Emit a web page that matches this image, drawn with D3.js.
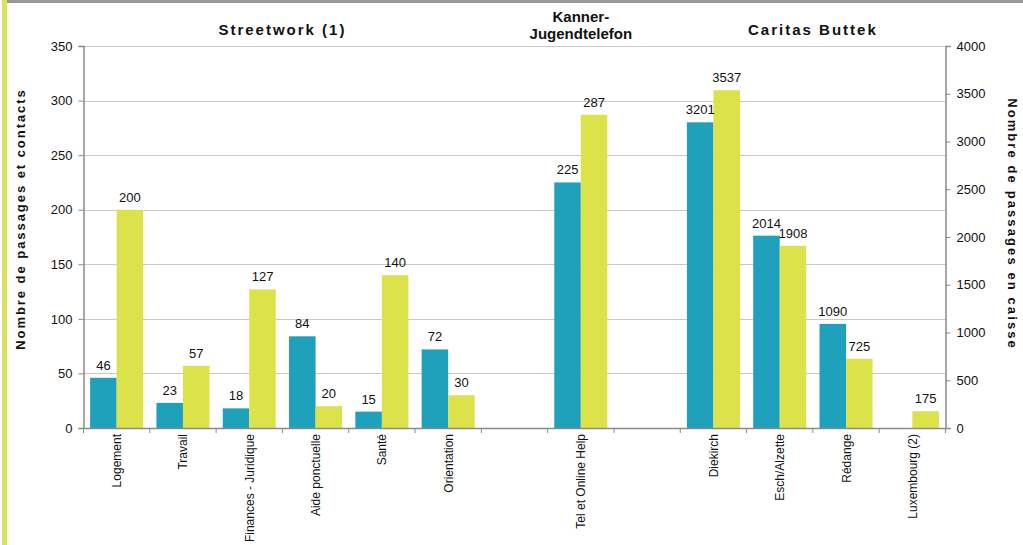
<!DOCTYPE html>
<html><head><meta charset="utf-8">
<script src="https://cdn.jsdelivr.net/npm/d3@7"></script>
<style>
body{margin:0;background:#fff;}
svg{display:block;font-family:"Liberation Sans",Arial,sans-serif;}
</style></head>
<body>
<svg id="c" width="1023" height="545"></svg>
<script>
const categories = ["Logement","Travail","Finances - Juridique","Aide ponctuelle","Santé","Orientation","gap1","Tel et Online Help","gap2","Diekirch","Esch/Alzette","Rédange","Luxembourg (2)"];
const categoryLabels = ["Logement","Travail","Finances - Juridique","Aide ponctuelle","Santé","Orientation","","Tel et Online Help","","Diekirch","Esch/Alzette","Rédange","Luxembourg (2)"];
// axis: "L" = left axis (passages et contacts), "R" = right axis (passages en caisse)
const categoryAxis = ["L","L","L","L","L","L","L","L","L","R","R","R","R"];
const series1 = [46,23,18,84,15,72,null,225,null,3201,2014,1090,null];
const series2 = [200,57,127,20,140,30,null,287,null,3537,1908,725,175];
const leftTicks = [0,50,100,150,200,250,300,350];
const rightTicks = [0,500,1000,1500,2000,2500,3000,3500,4000];
const groupTitles = [
  {lines:["Streetwork (1)"], from:0, to:5, spaced:true},
  {lines:["Kanner-","Jugendtelefon"], from:7, to:7, spaced:false},
  {lines:["Caritas Buttek"], from:9, to:12, spaced:true}
];

const svg = d3.select("#c");
const colors = ["#1FA0BB","#DCE24A"];
const L = 83.5, R = 945.5, T = 46, B = 428;

// decorations
svg.append("rect").attr("x",7).attr("y",0).attr("width",1016).attr("height",3).attr("fill","#9a9a9a");
svg.append("rect").attr("x",2).attr("y",0).attr("width",5).attr("height",545).attr("fill","#DCE25A");

const x = d3.scaleBand().domain(categories).range([L,R]).paddingInner(0).paddingOuter(0);
const xs = d3.scaleBand().domain([0,1]).range([0,x.bandwidth()]).paddingInner(0).paddingOuter(0.25);
const yL = d3.scaleLinear().domain([0,350]).range([B,T]);
const yR = d3.scaleLinear().domain([0,4000]).range([B,T]);

// gridlines
svg.append("g").selectAll("line").data(leftTicks.slice(1)).join("line")
  .attr("x1",L).attr("x2",R).attr("y1",d=>Math.round(yL(d))+0.5).attr("y2",d=>Math.round(yL(d))+0.5)
  .attr("stroke","#c8c8c8").attr("stroke-width",1);

// bars
const data = [];
categories.forEach((c,i)=>{
  [series1[i],series2[i]].forEach((v,s)=>{
    if(v!==null) data.push({c,i,s,v});
  });
});
const ys = d=> categoryAxis[d.i]==="L" ? yL : yR;
svg.append("g").selectAll("rect").data(data).join("rect")
  .attr("x",d=>x(d.c)+xs(d.s))
  .attr("width",xs.bandwidth())
  .attr("y",d=>ys(d)(d.v))
  .attr("height",d=>B-ys(d)(d.v))
  .attr("fill",d=>colors[d.s]);

// value labels
svg.append("g").selectAll("text").data(data).join("text")
  .attr("x",d=>x(d.c)+xs(d.s)+xs.bandwidth()/2)
  .attr("y",d=>ys(d)(d.v)-8)
  .attr("text-anchor","middle")
  .attr("font-size",13).attr("fill","#111")
  .text(d=>d.v);

// axes
const axisColor="#8a8a8a";
const gL = svg.append("g").attr("transform",`translate(${L},0)`)
  .call(d3.axisLeft(yL).tickValues(leftTicks).tickSize(5).tickPadding(6).tickFormat(d3.format("d")));
const gR = svg.append("g").attr("transform",`translate(${R},0)`)
  .call(d3.axisRight(yR).tickValues(rightTicks).tickSize(5).tickPadding(6).tickFormat(d3.format("d")));
[gL,gR].forEach(g=>{
  g.select(".domain").attr("stroke",axisColor).attr("stroke-width",1.5);
  g.selectAll(".tick line").attr("stroke",axisColor);
  g.selectAll(".tick text").attr("font-size",13).attr("fill","#111").attr("font-family","Liberation Sans, Arial, sans-serif");
});

// x axis
const gX = svg.append("g").attr("transform",`translate(0,${B})`);
gX.append("line").attr("x1",L).attr("x2",R).attr("y1",0.5).attr("y2",0.5).attr("stroke",axisColor).attr("stroke-width",1.5);
const bounds = categories.map(c=>x(c)).concat([R]);
gX.selectAll("line.t").data(bounds).join("line").attr("class","t")
  .attr("x1",d=>d).attr("x2",d=>d).attr("y1",0).attr("y2",5).attr("stroke",axisColor);
gX.selectAll("text").data(categories).join("text")
  .attr("transform",(d)=>`translate(${x(d)+x.bandwidth()/2+4.5},6) rotate(-90)`)
  .attr("text-anchor","end")
  .attr("font-size",12).attr("fill","#111")
  .text((d,i)=>categoryLabels[i]);

// group titles
groupTitles.forEach(g=>{
  const cx = (x(categories[g.from]) + x(categories[g.to]) + x.bandwidth())/2;
  const t = svg.append("text").attr("x",cx).attr("text-anchor","middle")
    .attr("font-size",15).attr("font-weight","bold").attr("fill","#111")
    .attr("letter-spacing",g.spaced?2:0);
  if(g.lines.length===1){
    t.attr("y",35).text(g.lines[0]);
  } else {
    g.lines.forEach((ln,k)=>t.append("tspan").attr("x",cx).attr("y",22+k*17).text(ln));
  }
});

// axis titles
svg.append("text").attr("transform",`translate(25,219) rotate(-90)`)
  .attr("text-anchor","middle").attr("font-size",13).attr("font-weight","bold")
  .attr("letter-spacing",1.95).attr("fill","#111").text("Nombre de passages et contacts");
svg.append("text").attr("transform",`translate(1008,224) rotate(90)`)
  .attr("text-anchor","middle").attr("font-size",13).attr("font-weight","bold")
  .attr("letter-spacing",2.1).attr("fill","#111").text("Nombre de passages en caisse");
</script>
</body></html>
